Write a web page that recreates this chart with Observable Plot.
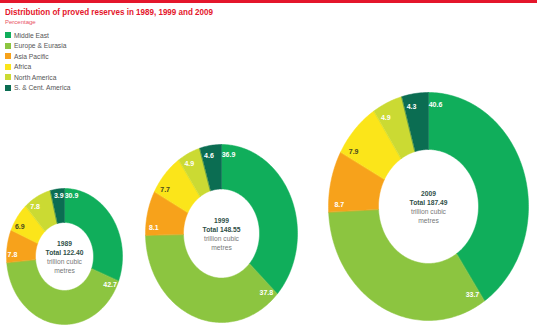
<!DOCTYPE html>
<html><head><meta charset="utf-8">
<script src="https://cdn.jsdelivr.net/npm/d3@7"></script>
<script src="https://cdn.jsdelivr.net/npm/@observablehq/plot@0.6"></script>
<style>
html,body{margin:0;padding:0;background:#fff;}
#wrap{position:relative;width:537px;height:330px;overflow:hidden;font-family:"Liberation Sans",Arial,sans-serif;}
#bar{position:absolute;left:0;top:0;width:537px;height:3px;background:#e4162b;}
#title{position:absolute;left:5px;top:7px;font-weight:bold;font-size:9.5px;line-height:10px;color:#e4162b;white-space:nowrap;transform-origin:0 0;}
#sub{position:absolute;left:5px;top:19px;font-size:6px;line-height:6px;color:#e8505f;white-space:nowrap;}
#legend{position:absolute;left:5px;top:30px;z-index:2;}
.item{height:10.5px;display:flex;align-items:center;font-size:6.7px;color:#555;white-space:nowrap;}
.sw{width:6px;height:6px;margin-right:3px;flex:none;}
#chart{position:absolute;left:0;top:30px;}
</style>
</head><body>
<div id="wrap">
  <div id="bar"></div>
  <div id="title">Distribution of proved reserves in 1989, 1999 and 2009</div>
  <div id="sub">Percentage</div>
  <div id="legend"></div>
  <div id="chart"></div>
</div>
<script>
// ---- data ----
const regions = ["Middle East", "Europe & Eurasia", "Asia Pacific", "Africa", "North America", "S. & Cent. America"];
const years = ["1989", "1999", "2009"];
const totals = [122.40, 148.55, 187.49];
const shares1989 = [30.9, 42.7, 7.8, 6.9, 7.8, 3.9];
const shares1999 = [36.9, 37.8, 8.1, 7.7, 4.9, 4.6];
const shares2009 = [40.6, 33.7, 8.7, 7.9, 4.9, 4.3];
const unitLines = ["trillion cubic", "metres"];

// ---- styles / layout ----
const colors = ["#10ae5b", "#8cc540", "#f7a21b", "#fbe51a", "#cbda33", "#0b6d52"];
const layout = [
  {cx: 64, cy: 256, rx: 58, ry: 68},
  {cx: 221, cy: 233, rx: 76, ry: 89},
  {cx: 428, cy: 206, rx: 100, ry: 114}
];
const innerRatio = 0.5;
const W = 537, TOP = 30, H = 300;

// title width fit
const t = document.getElementById("title");
t.style.transform = `scaleX(${208 / t.getBoundingClientRect().width})`;

// legend
const lg = document.getElementById("legend");
regions.forEach((r, i) => {
  const d = document.createElement("div"); d.className = "item";
  d.innerHTML = `<span class="sw" style="background:${colors[i]}"></span>${r.replace("&", "&amp;")}`;
  lg.appendChild(d);
});

// build slice polygons
const allShares = [shares1989, shares1999, shares2009];
const rows = [], labels = [], centers = [];
years.forEach((yr, k) => {
  const s = allShares[k], sum = d3.sum(s), L = layout[k];
  let acc = 0;
  s.forEach((v, i) => {
    const a0 = acc / sum * 2 * Math.PI, a1 = (acc + v) / sum * 2 * Math.PI; acc += v;
    const id = yr + "-" + i;
    const n = Math.max(2, Math.ceil((a1 - a0) / 0.02));
    for (let j = 0; j <= n; j++) { const a = a0 + (a1 - a0) * j / n; rows.push({id, region: regions[i], x: L.cx + L.rx * Math.sin(a), y: L.cy - L.ry * Math.cos(a)}); }
    for (let j = n; j >= 0; j--) { const a = a0 + (a1 - a0) * j / n; rows.push({id, region: regions[i], x: L.cx + innerRatio * L.rx * Math.sin(a), y: L.cy - innerRatio * L.ry * Math.cos(a)}); }
    const bx = L.cx + 0.89 * L.rx * Math.sin(a0), by = L.cy - 0.89 * L.ry * Math.cos(a0);
    labels.push({x: bx + 7 * Math.cos(a0), y: by + 7 * Math.sin(a0), text: v.toFixed(1), dark: regions[i] === "Africa"});
  });
  centers.push({x: L.cx, y: L.cy, year: yr, total: "Total " + totals[k].toFixed(2)});
});

const chart = Plot.plot({
  width: W, height: H, margin: 0,
  x: {domain: [0, W], range: [0, W], axis: null},
  y: {domain: [TOP, TOP + H], range: [0, H], axis: null},
  color: {domain: regions, range: colors},
  style: {fontFamily: "Liberation Sans, Arial, sans-serif", background: "white"},
  marks: [
    Plot.line(rows, {x: "x", y: "y", z: "id", fill: "region", stroke: "region", strokeWidth: 0.5, curve: "linear-closed"}),
    Plot.text(labels.filter(d => !d.dark), {x: "x", y: "y", text: "text", fill: "white", fontWeight: "bold", fontSize: 7}),
    Plot.text(labels.filter(d => d.dark), {x: "x", y: "y", text: "text", fill: "#4a4a20", fontWeight: "bold", fontSize: 7}),
    Plot.text(centers, {x: "x", y: "y", text: "year", dy: -13, fill: "#2f4f47", fontWeight: "bold", fontSize: 6.7}),
    Plot.text(centers, {x: "x", y: "y", text: "total", dy: -4, fill: "#2f4f47", fontWeight: "bold", fontSize: 6.7}),
    Plot.text(centers, {x: "x", y: "y", text: () => unitLines[0], dy: 5, fill: "#777", fontSize: 6.7}),
    Plot.text(centers, {x: "x", y: "y", text: () => unitLines[1], dy: 14, fill: "#777", fontSize: 6.7})
  ]
});
document.getElementById("chart").appendChild(chart);
</script>
</body></html>
